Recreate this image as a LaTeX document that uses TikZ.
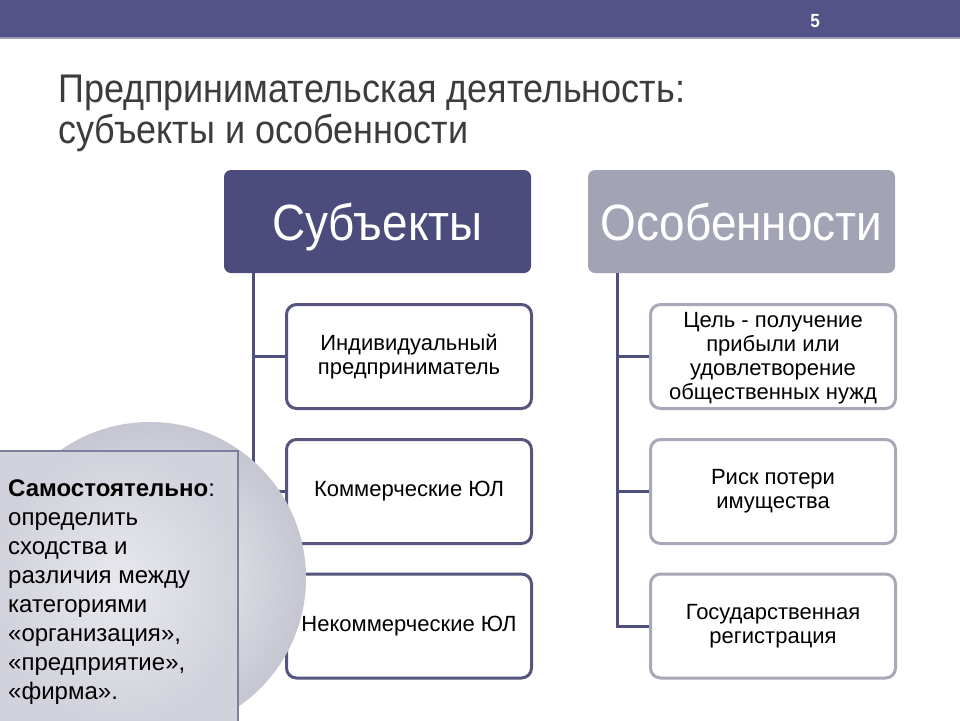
\documentclass[tikz,border=0pt]{standalone}
\usepackage{fontspec}
\setmainfont{Liberation Sans}
\newfontfamily\narrow[FakeStretch=0.9]{Liberation Sans}
\definecolor{barcol}{HTML}{535388}
\definecolor{barline}{HTML}{9A9AB8}
\definecolor{titlegray}{HTML}{3C3C3C}
\definecolor{hdrone}{HTML}{4B4B7C}
\definecolor{hdrtwo}{HTML}{A3A3B6}
\definecolor{conncol}{HTML}{50507E}
\definecolor{lboxcol}{HTML}{55557F}
\definecolor{rboxcol}{HTML}{A8A8B8}
\definecolor{circin}{HTML}{F2F2F5}
\definecolor{circout}{HTML}{C6C6D2}
\definecolor{rectin}{HTML}{E8E8EE}
\definecolor{rectout}{HTML}{D2D2DC}
\definecolor{rectline}{HTML}{7E7E9E}
\tikzset{
  conn/.style={draw=conncol, line width=3pt},
  boxbase/.style={line width=3pt, rounded corners=10pt, fill=white, minimum width=245pt, minimum height=104pt, inner sep=0pt},
  lbox/.style={boxbase, draw=lboxcol},
  rbox/.style={boxbase, draw=rboxcol},
  btext/.style={align=center, font=\fontsize{22}{24}\selectfont, text=black, inner sep=0pt},
  hdr/.style={rounded corners=7pt, minimum width=307pt, minimum height=103pt, inner sep=0pt, text depth=0pt, text=white, font=\narrow\fontsize{51}{51}\selectfont}
}
\begin{document}
\begin{tikzpicture}[x=1pt,y=-1pt]
\useasboundingbox (0,0) rectangle (960,720);
\fill[white] (0,0) rectangle (960,720);
% top bar
\fill[barcol] (0,0) rectangle (960,37);
\draw[barline, line width=2pt] (0,38) -- (960,38);
\node[text=white, inner sep=0pt, font=\narrow\bfseries\fontsize{19}{19}\selectfont] (pg) at (815,21) {5};
% title
\node[anchor=west, align=left, inner sep=0pt, text=titlegray, font=\narrow\fontsize{40}{41}\selectfont] (title) at (58,113) {Предпринимательская деятельность:\\субъекты и особенности};
% headers
\node[hdr, fill=hdrone] (subj) at (377.5,221.5) {Субъекты};
\node[hdr, fill=hdrtwo] (feat) at (741.5,221.5) {Особенности};
% boxes
\node[lbox] (c1) at (409,356.5) {};
\node[lbox] (c2) at (409,491.5) {};
\node[lbox] (c3) at (409,626) {};
\node[rbox] (d1) at (773,356.5) {};
\node[rbox] (d2) at (773,491.5) {};
\node[rbox] (d3) at (773,626) {};
% connectors
\draw[conn] ([xshift=30pt]subj.south west) |- (c3.west);
\draw[conn] (c1.west) -- ++(-31,0);
\draw[conn] (c2.west) -- ++(-31,0);
\draw[conn] ([xshift=30pt]feat.south west) |- (d3.west);
\draw[conn] (d1.west) -- ++(-31,0);
\draw[conn] (d2.west) -- ++(-31,0);
% circle and task panel
\shade[inner color=circin, outer color=circout] (150,578) circle (156);
\shade[inner color=rectin, outer color=rectout] (0,451) rectangle (238,722);
\draw[rectline, line width=1.5pt] (0,451) -- (238,451) -- (238,722);
\node[anchor=north west, align=left, inner sep=0pt, text=black, font=\fontsize{24}{29}\selectfont] (task) at (8,480) {\textbf{Самостоятельно}:\\определить\\сходства и\\различия между\\категориями\\«организация»,\\«предприятие»,\\«фирма».};
% box texts
\node[btext] (t1) at (c1.center) {Индивидуальный\\предприниматель};
\node[btext] (t2) at (c2.center) {Коммерческие ЮЛ};
\node[btext] (t3) at (c3.center) {Некоммерческие ЮЛ};
\node[btext] (u1) at ([yshift=-2pt]d1.center) {Цель - получение\\прибыли или\\удовлетворение\\общественных нужд};
\node[btext] (u2) at (d2.center) {Риск потери\\имущества};
\node[btext] (u3) at (d3.center) {Государственная\\регистрация};
\end{tikzpicture}
\end{document}
